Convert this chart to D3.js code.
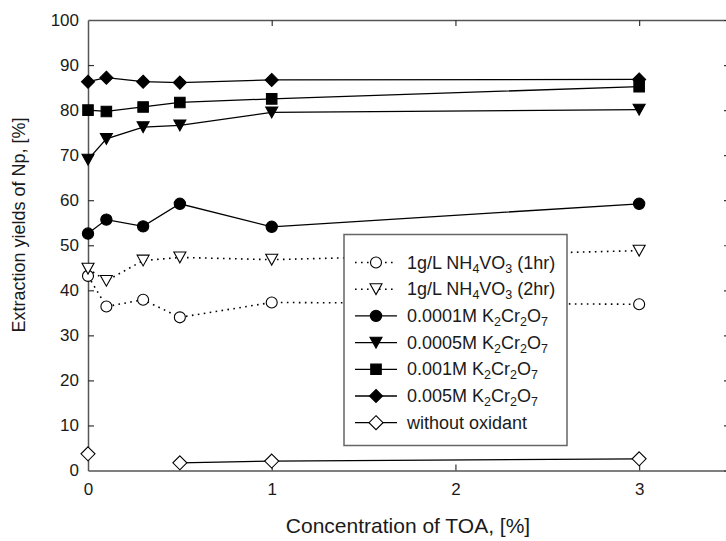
<!DOCTYPE html>
<html>
<head>
<meta charset="utf-8">
<script src="https://cdn.jsdelivr.net/npm/d3@7"></script>
<style>
  html, body { margin: 0; padding: 0; background: #fff; }
  svg { display: block; font-family: "Liberation Sans", Arial, Helvetica, sans-serif; }
</style>
</head>
<body>
<svg id="chart" width="726" height="541"></svg>
<script>
// TOA concentration (%) at which extraction yields were measured
const toaConc = [0, 0.1, 0.3, 0.5, 1, 3];

// Extraction yields of Np (%) for each oxidant condition
const nh4vo3_1hr   = [43.2, 36.4, 37.9, 34.0, 37.3, 36.9];
const nh4vo3_2hr   = [44.8, 42.1, 46.6, 47.3, 46.8, 48.8];
const k2cr2o7_0001 = [52.6, 55.7, 54.2, 59.2, 54.1, 59.2];
const k2cr2o7_0005 = [69.0, 73.6, 76.2, 76.6, 79.5, 80.1];
const k2cr2o7_001  = [80.0, 79.7, 80.7, 81.7, 82.5, 85.2];
const k2cr2o7_005  = [86.3, 87.2, 86.3, 86.1, 86.7, 86.8];
const noOxidant    = [3.7, null, null, 1.7, 2.1, 2.6];

const xTicks = [0, 1, 2, 3];
const yTicks = [0, 10, 20, 30, 40, 50, 60, 70, 80, 90, 100];

// Legend labels: plain text segments and subscript segments
const legendLabels = [
  [["1g/L NH"], ["4", "sub"], ["VO"], ["3", "sub"], [" (1hr)"]],
  [["1g/L NH"], ["4", "sub"], ["VO"], ["3", "sub"], [" (2hr)"]],
  [["0.0001M K"], ["2", "sub"], ["Cr"], ["2", "sub"], ["O"], ["7", "sub"]],
  [["0.0005M K"], ["2", "sub"], ["Cr"], ["2", "sub"], ["O"], ["7", "sub"]],
  [["0.001M K"], ["2", "sub"], ["Cr"], ["2", "sub"], ["O"], ["7", "sub"]],
  [["0.005M K"], ["2", "sub"], ["Cr"], ["2", "sub"], ["O"], ["7", "sub"]],
  [["without oxidant"]]
];

const series = [
  { values: nh4vo3_1hr,   symbol: d3.symbolCircle,   size: 95,  fill: "#fff", dotted: true },
  { values: nh4vo3_2hr,   symbol: "triDown",         size: 12,  fill: "#fff", dotted: true },
  { values: k2cr2o7_0001, symbol: d3.symbolCircle,   size: 100, fill: "#000", dotted: false },
  { values: k2cr2o7_0005, symbol: "triDown",         size: 12,  fill: "#000", dotted: false },
  { values: k2cr2o7_001,  symbol: d3.symbolSquare,   size: 110, fill: "#000", dotted: false },
  { values: k2cr2o7_005,  symbol: "diamond",         size: 13,  fill: "#000", dotted: false },
  { values: noOxidant,    symbol: "diamond",         size: 14,  fill: "#fff", dotted: false }
];

const svg = d3.select("#chart");
const plotLeft = 88, plotRight = 731, plotTop = 20, plotBottom = 470.5;

const x = d3.scaleLinear().domain([0, 3.5]).range([plotLeft, plotRight]);
const y = d3.scaleLinear().domain([0, 100]).range([plotBottom, plotTop]);

const axisColor = "#555";

// Marker path generator
function markerPath(s) {
  if (s.symbol === "triDown") {
    const w = s.size, h = s.size * 0.9;
    return `M${-w / 2},${-h / 2}L${w / 2},${-h / 2}L0,${h / 2}Z`;
  }
  if (s.symbol === "diamond") {
    const r = s.size / 2;
    return `M0,${-r}L${r},0L0,${r}L${-r},0Z`;
  }
  return d3.symbol().type(s.symbol).size(s.size)();
}

// Axes: ticks point inward on all four sides
const gBottom = svg.append("g").attr("transform", `translate(0,${plotBottom})`)
  .call(d3.axisBottom(x).tickValues(xTicks).tickSizeInner(-6).tickSizeOuter(0).tickPadding(12).tickFormat(d3.format("d")));
const gTop = svg.append("g").attr("transform", `translate(0,${plotTop})`)
  .call(d3.axisTop(x).tickValues(xTicks.filter(d => d > 0)).tickSizeInner(-6).tickSizeOuter(0).tickFormat(""));
const gLeft = svg.append("g").attr("transform", `translate(${plotLeft},0)`)
  .call(d3.axisLeft(y).tickValues(yTicks).tickSizeInner(-6).tickSizeOuter(0).tickPadding(9).tickFormat(d3.format("d")));
const gRight = svg.append("g").attr("transform", `translate(${plotRight},0)`)
  .call(d3.axisRight(y).tickValues(yTicks).tickSizeInner(-7).tickSizeOuter(0).tickFormat(""));

[gBottom, gTop, gLeft, gRight].forEach(g => {
  g.select(".domain").attr("stroke", axisColor).attr("stroke-width", 1.5);
  g.selectAll(".tick line").attr("stroke", "#333").attr("stroke-width", 1.2);
  g.selectAll(".tick text").attr("fill", "#1a1a1a").attr("font-size", 17)
    .attr("font-family", "'Liberation Sans', Arial, sans-serif");
});
gBottom.selectAll(".tick line").filter(d => d === 0).remove();
gLeft.selectAll(".tick line").filter(d => d === 0 || d === 100).remove();

// Axis titles
svg.append("text")
  .attr("x", 408).attr("y", 533)
  .attr("text-anchor", "middle")
  .attr("font-size", 21).attr("fill", "#1a1a1a")
  .text("Concentration of TOA, [%]");
svg.append("text")
  .attr("transform", `translate(25,225) rotate(-90)`)
  .attr("text-anchor", "middle")
  .attr("font-size", 18).attr("fill", "#1a1a1a")
  .text("Extraction yields of Np, [%]");

// Series lines and markers
const line = d3.line()
  .defined(d => d[1] !== null)
  .x(d => x(d[0]))
  .y(d => y(d[1]));

series.forEach(s => {
  const pts = toaConc.map((c, i) => [c, s.values[i]]);
  svg.append("path")
    .attr("d", line(pts))
    .attr("fill", "none")
    .attr("stroke", "#000")
    .attr("stroke-width", s.dotted ? 1.6 : 1.3)
    .attr("stroke-dasharray", s.dotted ? "1.6,4.4" : null)
    .attr("stroke-linecap", "butt");
});

series.forEach(s => {
  const pts = toaConc.map((c, i) => [c, s.values[i]]).filter(d => d[1] !== null);
  svg.append("g").selectAll("path")
    .data(pts)
    .join("path")
    .attr("transform", d => `translate(${x(d[0])},${y(d[1])})`)
    .attr("d", markerPath(s))
    .attr("fill", s.fill)
    .attr("stroke", "#000")
    .attr("stroke-width", 1.1);
});

// Legend
const legend = svg.append("g");
legend.append("rect")
  .attr("x", 344).attr("y", 234.5)
  .attr("width", 223).attr("height", 211)
  .attr("fill", "#fff")
  .attr("stroke", "#666")
  .attr("stroke-width", 1.5);

series.forEach((s, i) => {
  const ry = 262.5 + i * 26.7;
  legend.append("line")
    .attr("x1", 355).attr("x2", 397)
    .attr("y1", ry).attr("y2", ry)
    .attr("stroke", "#000")
    .attr("stroke-width", s.dotted ? 1.6 : 1.3)
    .attr("stroke-dasharray", s.dotted ? "1.6,4.4" : null);
  legend.append("path")
    .attr("transform", `translate(376,${ry})`)
    .attr("d", markerPath(s))
    .attr("fill", s.fill)
    .attr("stroke", "#000")
    .attr("stroke-width", 1.1);

  const t = legend.append("text")
    .attr("x", 407).attr("y", ry + 6)
    .attr("font-size", 18).attr("fill", "#1a1a1a");
  let shifted = false;
  legendLabels[i].forEach(([txt, kind]) => {
    const ts = t.append("tspan").text(txt);
    if (kind === "sub") {
      ts.attr("font-size", 12.5).attr("dy", shifted ? 0 : 4);
      shifted = true;
    } else {
      if (shifted) ts.attr("dy", -4);
      shifted = false;
    }
  });
});
</script>
</body>
</html>
